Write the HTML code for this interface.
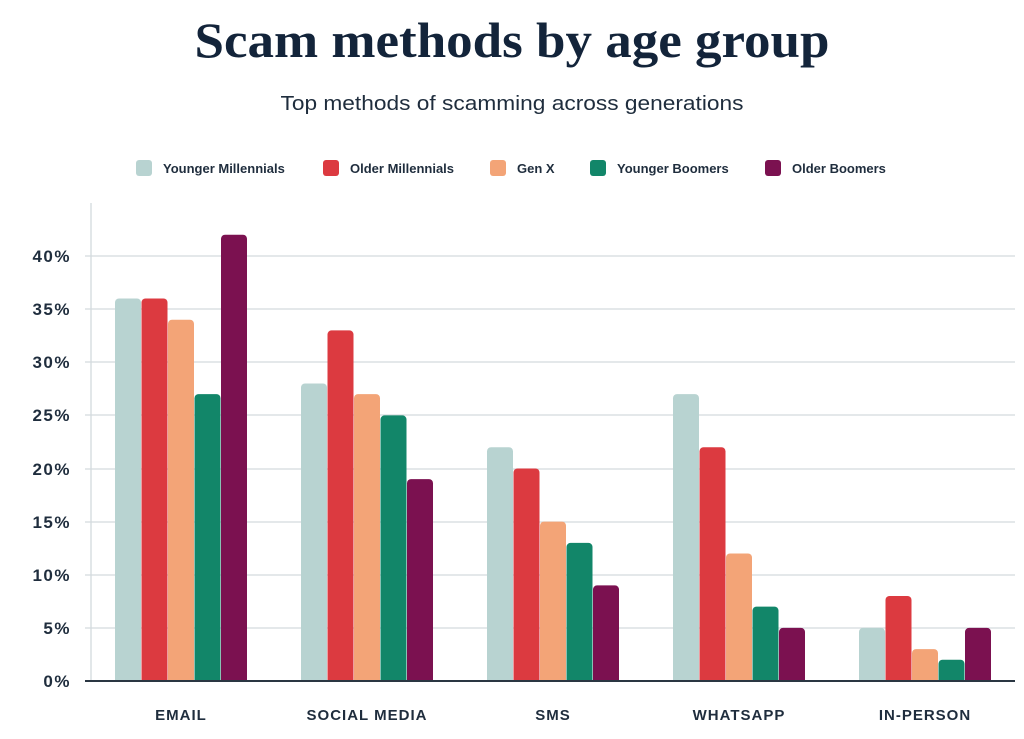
<!DOCTYPE html>
<html><head><meta charset="utf-8"><style>
html,body{margin:0;padding:0;background:#fff;}
svg{display:block;}
text{font-family:"Liberation Sans",sans-serif;}
</style></head><body>
<svg width="1024" height="739" viewBox="0 0 1024 739" xmlns="http://www.w3.org/2000/svg">
<text x="512" y="57" text-anchor="middle" font-weight="bold" font-size="50" fill="#13243a" textLength="635" lengthAdjust="spacingAndGlyphs" style="font-family:'Liberation Serif',serif">Scam methods by age group</text>
<text x="512" y="110" text-anchor="middle" font-size="20" fill="#1f2d3d" textLength="463" lengthAdjust="spacingAndGlyphs">Top methods of scamming across generations</text>
<g font-size="13" font-weight="bold" fill="#1f2d3d">
<rect x="136" y="160" width="16" height="16" rx="3" fill="#b8d3d1"/><text x="163" y="173">Younger Millennials</text>
<rect x="323" y="160" width="16" height="16" rx="3" fill="#dc3a40"/><text x="350" y="173">Older Millennials</text>
<rect x="490" y="160" width="16" height="16" rx="3" fill="#f3a477"/><text x="517" y="173">Gen X</text>
<rect x="590" y="160" width="16" height="16" rx="3" fill="#128669"/><text x="617" y="173">Younger Boomers</text>
<rect x="765" y="160" width="16" height="16" rx="3" fill="#7b1150"/><text x="792" y="173">Older Boomers</text>
</g>
<g stroke="#d3dadd" stroke-width="1.3">
<line x1="85" y1="256" x2="1015" y2="256"/><line x1="85" y1="309" x2="1015" y2="309"/>
<line x1="85" y1="362" x2="1015" y2="362"/><line x1="85" y1="415" x2="1015" y2="415"/>
<line x1="85" y1="469" x2="1015" y2="469"/><line x1="85" y1="522" x2="1015" y2="522"/>
<line x1="85" y1="575" x2="1015" y2="575"/><line x1="85" y1="628" x2="1015" y2="628"/>
<line x1="91" y1="203" x2="91" y2="681"/>
</g>
<g font-size="17" font-weight="bold" fill="#1f2d3d" text-anchor="end" letter-spacing="1.5">
<text x="71" y="262">40%</text><text x="71" y="315">35%</text><text x="71" y="368">30%</text>
<text x="71" y="421">25%</text><text x="71" y="475">20%</text><text x="71" y="528">15%</text>
<text x="71" y="581">10%</text><text x="71" y="634">5%</text><text x="71" y="687">0%</text>
</g>
<g>
<rect x="115" y="298.5" width="26" height="386.5" rx="4" fill="#b8d3d1"/>
<rect x="141.5" y="298.5" width="26" height="386.5" rx="4" fill="#dc3a40"/>
<rect x="168" y="319.75" width="26" height="365.25" rx="4" fill="#f3a477"/>
<rect x="194.5" y="394.1" width="26" height="290.9" rx="4" fill="#128669"/>
<rect x="221" y="234.75" width="26" height="450.25" rx="4" fill="#7b1150"/>

<rect x="301" y="383.5" width="26" height="301.5" rx="4" fill="#b8d3d1"/>
<rect x="327.5" y="330.4" width="26" height="354.6" rx="4" fill="#dc3a40"/>
<rect x="354" y="394.1" width="26" height="290.9" rx="4" fill="#f3a477"/>
<rect x="380.5" y="415.4" width="26" height="269.6" rx="4" fill="#128669"/>
<rect x="407" y="479.1" width="26" height="205.9" rx="4" fill="#7b1150"/>

<rect x="487" y="447.25" width="26" height="237.75" rx="4" fill="#b8d3d1"/>
<rect x="513.5" y="468.5" width="26" height="216.5" rx="4" fill="#dc3a40"/>
<rect x="540" y="521.6" width="26" height="163.4" rx="4" fill="#f3a477"/>
<rect x="566.5" y="542.9" width="26" height="142.1" rx="4" fill="#128669"/>
<rect x="593" y="585.4" width="26" height="99.6" rx="4" fill="#7b1150"/>

<rect x="673" y="394.1" width="26" height="290.9" rx="4" fill="#b8d3d1"/>
<rect x="699.5" y="447.25" width="26" height="237.75" rx="4" fill="#dc3a40"/>
<rect x="726" y="553.5" width="26" height="131.5" rx="4" fill="#f3a477"/>
<rect x="752.5" y="606.6" width="26" height="78.4" rx="4" fill="#128669"/>
<rect x="779" y="627.9" width="26" height="57.1" rx="4" fill="#7b1150"/>

<rect x="859" y="627.9" width="26" height="57.1" rx="4" fill="#b8d3d1"/>
<rect x="885.5" y="596" width="26" height="89" rx="4" fill="#dc3a40"/>
<rect x="912" y="649.1" width="26" height="35.9" rx="4" fill="#f3a477"/>
<rect x="938.5" y="659.75" width="26" height="25.25" rx="4" fill="#128669"/>
<rect x="965" y="627.9" width="26" height="57.1" rx="4" fill="#7b1150"/>
</g>
<rect x="85" y="681" width="935" height="10" fill="#fff"/>
<line x1="85" y1="681" x2="1015" y2="681" stroke="#2a3642" stroke-width="2"/>
<g font-size="15" font-weight="bold" fill="#1f2d3d" text-anchor="middle" letter-spacing="1">
<text x="181" y="720">EMAIL</text><text x="367" y="720">SOCIAL MEDIA</text>
<text x="553" y="720">SMS</text><text x="739" y="720">WHATSAPP</text><text x="925" y="720">IN-PERSON</text>
</g>
</svg>
</body></html>
